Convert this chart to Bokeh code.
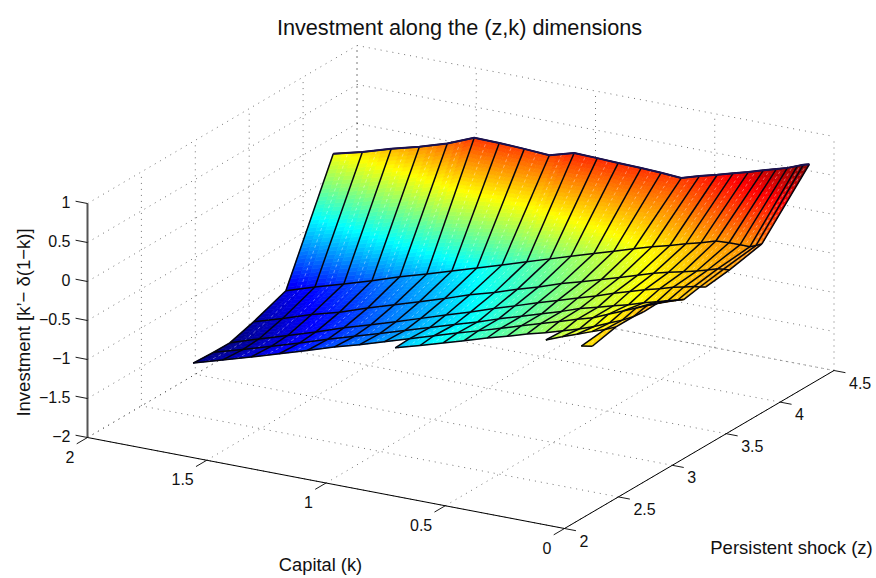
from math import pi, ceil
from bokeh.plotting import figure
from bokeh.embed import file_html
from bokeh.resources import INLINE
from bokeh.core.properties import value
from bokeh.models import Range1d

nan = float("nan")

title_text = "Investment along the (z,k) dimensions"
xlabel_text = "Capital (k)"
ylabel_text = "Persistent shock (z)"
zlabel_text = "Investment [k\u2019\u2212 \u03b4(1\u2212k)]"

k_ticks = [2, 1.5, 1, 0.5, 0]
k_tick_labels = ["2", "1.5", "1", "0.5", "0"]
z_ticks = [2, 2.5, 3, 3.5, 4, 4.5]
z_tick_labels = ["2", "2.5", "3", "3.5", "4", "4.5"]
i_ticks = [1, 0.5, 0, -0.5, -1, -1.5, -2]
i_tick_labels = ["1", "0.5", "0", "\u22120.5", "\u22121", "\u22121.5", "\u22122"]

# capital grid (columns)
k_grid = [2.0, 1.878, 1.757, 1.639, 1.522, 1.409, 1.304, 1.199, 1.094, 0.99,
          0.893, 0.805, 0.709, 0.625, 0.541, 0.465, 0.39, 0.323, 0.26, 0.197,
          0.142, 0.096, 0.054, 0.029, 0.004]
# shock grid (rows, front to back)
z_grid = [2.47, 2.69, 2.85, 2.98, 3.17, 3.32, 3.54, 3.84, 4.28]

inv_z0 = [nan]*20 + [-0.125, -0.10] + [nan]*3
inv_z1 = [nan]*16 + [-0.37, -0.29, -0.22, -0.15, -0.09, -0.03] + [nan]*3
inv_z2 = [nan]*8 + [-1.01, -0.92, -0.83, -0.75, -0.66, -0.59, -0.51, -0.45, -0.38,
                    -0.32, -0.25, -0.17, -0.10, -0.03, 0.055] + [nan]*2
inv_z3 = [-1.84, -1.73, -1.62, -1.51, -1.40, -1.29, -1.20, -1.10, -1.0, -0.90,
          -0.81, -0.73, -0.64, -0.56, -0.48, -0.41, -0.34, -0.28, -0.20, -0.12,
          -0.05, 0.01, 0.06, 0.095, nan]
inv_z4 = [-1.855, -1.75, -1.635, -1.525, -1.41, -1.305, -1.21, -1.11, -1.01, -0.91,
          -0.82, -0.73, -0.64, -0.56, -0.48, -0.40, -0.34, -0.28, -0.23, -0.17,
          -0.125, -0.085, -0.05, -0.03, nan]
inv_z5 = [-1.856, -1.735, -1.62, -1.505, -1.385, -1.28, -1.18, -1.075, -0.97, -0.87,
          -0.77, -0.685, -0.59, -0.51, -0.43, -0.36, -0.28, -0.22, -0.16, -0.11,
          -0.06, -0.03, 0.0, 0.01, 0.025]
inv_z6 = [-1.765, -1.65, -1.53, -1.43, -1.31, -1.20, -1.10, -1.0, -0.89, -0.80,
          -0.70, -0.62, -0.52, -0.45, -0.37, -0.30, -0.23, -0.165, -0.115, -0.07,
          -0.03, 0.01, 0.05, 0.06, 0.065]
inv_z7 = [-1.61, -1.49, -1.38, -1.27, -1.15, -1.05, -0.95, -0.85, -0.75, -0.65,
          -0.555, -0.47, -0.38, -0.30, -0.22, -0.15, -0.09, -0.03, 0.02, 0.08,
          0.09, 0.09, 0.09, 0.12, 0.155]
inv_z8 = [-0.21, -0.115, -0.005, 0.09, 0.20, 0.34, 0.335, 0.32, 0.30, 0.39,
          0.38, 0.37, 0.36, 0.35, 0.33, 0.40, 0.46, 0.52, 0.57, 0.63,
          0.68, 0.72, 0.77, 0.80, 0.82]
inv = [inv_z0, inv_z1, inv_z2, inv_z3, inv_z4, inv_z5, inv_z6, inv_z7, inv_z8]


def proj(k, z, i):
    """Orthographic view of the box k in [0,2], z in [2,4.5], i in [-2,1]."""
    x = 87 + 238.5 * (2 - k) + 107.8 * (z - 2)
    y = 437 + 45.5 * (2 - k) - 63.2 * (z - 2) - 78 * (i + 2)
    return x, y


def jet(t):
    t = max(0.0, min(1.0, t))
    def f(a):
        return max(0.0, min(1.0, 1.5 - abs(4 * t - a)))
    return "#%02x%02x%02x" % (round(255 * f(3)), round(255 * f(2)), round(255 * f(1)))


p = figure(width=876, height=578, output_backend="svg", toolbar_location=None,
           x_range=Range1d(0, 876), y_range=Range1d(578, 0), min_border=0)
p.xaxis.visible = False
p.yaxis.visible = False
p.grid.visible = False
p.outline_line_color = None
p.background_fill_color = "white"
p.border_fill_color = "white"

# dotted box grid
gx, gy = [], []
def seg(a, b):
    (x0, y0), (x1, y1) = proj(*a), proj(*b)
    gx.append([x0, x1]); gy.append([y0, y1])

for k in k_ticks:
    seg((k, 2, -2), (k, 4.5, -2))
    seg((k, 4.5, -2), (k, 4.5, 1))
for z in z_ticks:
    seg((0, z, -2), (2, z, -2))
    seg((2, z, -2), (2, z, 1))
for i in i_ticks:
    seg((2, 2, i), (2, 4.5, i))
    seg((2, 4.5, i), (0, 4.5, i))
p.multi_line(gx, gy, line_color="#222222", line_width=0.8, line_dash="1 5", line_alpha=0.8)

# surface patches, back to front
vals = [v for row in inv for v in row if v == v]
cmin, cmax = min(vals), max(vals)
px, py, pc = [], [], []
for r in range(len(z_grid) - 2, -1, -1):
    for c in range(len(k_grid) - 1):
        a, b = inv[r][c], inv[r][c + 1]
        d, e = inv[r + 1][c], inv[r + 1][c + 1]
        if not all(v == v for v in (a, b, d, e)):
            continue
        pts = [proj(k_grid[c], z_grid[r], a), proj(k_grid[c + 1], z_grid[r], b),
               proj(k_grid[c + 1], z_grid[r + 1], e), proj(k_grid[c], z_grid[r + 1], d)]
        nv = max(2, ceil(abs(pts[3][1] - pts[0][1]) / 4))
        nu = 3
        def at(u, w):
            x = (1-u)*(1-w)*pts[0][0] + u*(1-w)*pts[1][0] + u*w*pts[2][0] + (1-u)*w*pts[3][0]
            y = (1-u)*(1-w)*pts[0][1] + u*(1-w)*pts[1][1] + u*w*pts[2][1] + (1-u)*w*pts[3][1]
            return x, y
        for iu in range(nu):
            for iw in range(nv):
                u0, u1 = iu / nu, (iu + 1) / nu
                w0, w1 = iw / nv, (iw + 1) / nv
                q = [at(u0, w0), at(u1, w0), at(u1, w1), at(u0, w1)]
                um, wm = (u0 + u1) / 2, (w0 + w1) / 2
                val = (1-um)*(1-wm)*a + um*(1-wm)*b + um*wm*e + (1-um)*wm*d
                px.append([t[0] for t in q]); py.append([t[1] for t in q])
                pc.append(jet((val - cmin) / (cmax - cmin)))
p.patches(px, py, fill_color=pc, line_color=pc, line_width=0.7)

# faint white dashes halfway between the columns
wx, wy = [], []
for c in range(len(k_grid) - 1):
    xs, ys = [], []
    for r in range(len(z_grid)):
        a, b = inv[r][c], inv[r][c + 1]
        if a == a and b == b:
            x, y = proj((k_grid[c] + k_grid[c + 1]) / 2, z_grid[r], (a + b) / 2)
            xs.append(x); ys.append(y)
    if len(xs) > 1:
        wx.append(xs); wy.append(ys)
p.multi_line(wx, wy, line_color="white", line_width=0.7, line_dash="3 3", line_alpha=0.55)

# black mesh
ex, ey = [], []
for r in range(len(z_grid)):
    for c in range(len(k_grid)):
        v = inv[r][c]
        if v != v:
            continue
        x0, y0 = proj(k_grid[c], z_grid[r], v)
        if c + 1 < len(k_grid) and inv[r][c + 1] == inv[r][c + 1]:
            x1, y1 = proj(k_grid[c + 1], z_grid[r], inv[r][c + 1])
            ex.append([x0, x1]); ey.append([y0, y1])
        if r + 1 < len(z_grid) and inv[r + 1][c] == inv[r + 1][c]:
            x1, y1 = proj(k_grid[c], z_grid[r + 1], inv[r + 1][c])
            ex.append([x0, x1]); ey.append([y0, y1])
p.multi_line(ex, ey, line_color="#05050f", line_width=1.5)

# dark rim along the back row of the surface
rim = [proj(k_grid[c], z_grid[-1], inv[-1][c]) for c in range(len(k_grid))]
p.line([t[0] for t in rim], [t[1] for t in rim], line_color="#1a1050", line_width=2)

# axes
A = [proj(2, 2, -2), proj(0, 2, -2), proj(0, 4.5, -2)]
p.line([t[0] for t in A], [t[1] for t in A], line_color="black", line_width=1)
V = [proj(2, 2, -2), proj(2, 2, 1)]
p.line([t[0] for t in V], [t[1] for t in V], line_color="#555555", line_width=2)

tx, ty = [], []
def tick(a, b):
    (x0, y0), (x1, y1) = proj(*a), proj(*b)
    tx.append([x0, x1]); ty.append([y0, y1])
for k in k_ticks:
    tick((k, 2, -2), (k, 1.9, -2))
for z in z_ticks:
    tick((0, z, -2), (-0.048, z, -2))
for i in i_ticks:
    tick((2, 2, i), (2.05, 2, i))
p.multi_line(tx, ty, line_color="black", line_width=0.9)

font = value("Liberation Sans")
def label(xs, ys, texts, size, align="center", angle=0.0):
    p.text(xs, ys, text=texts, text_font=font, text_font_size=value(size),
           text_align=align, text_baseline="middle", text_color="#111111", angle=angle)

pts = [proj(k, 2, -2) for k in k_ticks]
label([t[0] - 13 for t in pts], [t[1] + 19 for t in pts], k_tick_labels, "16px", "right")
pts = [proj(0, z, -2) for z in z_ticks]
label([t[0] + 15 for t in pts], [t[1] + 12 for t in pts], z_tick_labels, "16px", "left")
pts = [proj(2, 2, i) for i in i_ticks]
label([t[0] - 17 for t in pts], [t[1] - 2 for t in pts], i_tick_labels, "16px", "right")

label([459], [27], [title_text], "21.7px")
label([320], [564], [xlabel_text], "18.3px")
label([791], [547], [ylabel_text], "18.5px")
label([23], [322], [zlabel_text], "18.5px", angle=pi / 2)

open("out.html", "w").write(file_html(p, INLINE))
